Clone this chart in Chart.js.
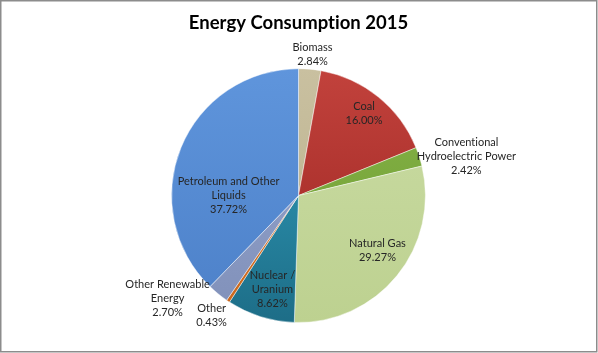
<!DOCTYPE html>
<html><head><meta charset="utf-8">
<script src="https://cdn.jsdelivr.net/npm/chart.js@4"></script>
<style>html,body{margin:0;padding:0;background:#fff}#wrap{width:598px;height:353px;position:relative}</style>
</head><body><div id="wrap"><canvas id="c" width="598" height="353"></canvas></div>
<script>
// ---- data ----
const categories = ['Biomass','Coal','Conventional Hydroelectric Power','Natural Gas','Nuclear / Uranium','Other','Other Renewable Energy','Petroleum and Other Liquids'];
const shares = [2.84, 16.00, 2.42, 29.27, 8.62, 0.43, 2.70, 37.72];
const labelLines = [['Biomass'],['Coal'],['Conventional','Hydroelectric Power'],['Natural Gas'],['Nuclear /','Uranium'],['Other'],['Other Renewable','Energy'],['Petroleum and Other','Liquids']];
const titleText = 'Energy Consumption 2015';

// ---- styling / layout ----
const colorsTop    = ['#C9C0A0','#C2423C','#86B547','#CADCA4','#33A3C2','#E07E2E','#97A7D0','#5F95DC'];
const colorsBottom = ['#B9AF8A','#9A2421','#6E9A33','#BDD190','#1D6D87','#C8661C','#8090B9','#4C80C8'];
const labelRadius     = [1.116, 0.827, 1.358, 0.758, 0.768, 1.167, 1.312, 0.551];
const labelAngleShift = [0.6, -0.4, 4.8, -4.4, -1.9, 2.2, 12.5, -22.1];
const labelFont = '11px Lato';
const labelLineH = 14;

const framePlugin = {
  id: 'frame',
  beforeDraw(chart) {
    const c = chart.ctx;
    if ('letterSpacing' in c) c.letterSpacing = '0.01px';
    c.save();
    c.fillStyle = '#fff';
    c.fillRect(0, 0, chart.width, chart.height);
    c.strokeStyle = '#8c8c8c';
    c.lineWidth = 1.5;
    c.strokeRect(0.75, 0.75, 596, 351);
    c.restore();
  }
};

const labelPlugin = {
  id: 'sliceLabels',
  afterDatasetsDraw(chart) {
    const c = chart.ctx;
    const meta = chart.getDatasetMeta(0);
    c.save();
    c.font = labelFont;
    c.fillStyle = '#262626';
    c.textAlign = 'center';
    c.textBaseline = 'middle';
    meta.data.forEach((arc, i) => {
      const p = arc.getProps(['x','y','startAngle','endAngle','outerRadius'], true);
      const mid = (p.startAngle + p.endAngle) / 2 + labelAngleShift[i] * Math.PI / 180;
      const r = p.outerRadius * labelRadius[i];
      const cx = p.x + Math.cos(mid) * r;
      const cy = p.y + Math.sin(mid) * r;
      const lines = labelLines[i].concat([shares[i].toFixed(2) + '%']);
      const y0 = cy - (lines.length - 1) * labelLineH / 2;
      lines.forEach((t, k) => c.fillText(t, cx, y0 + k * labelLineH));
    });
    c.restore();
  }
};

function grad(ctx) {
  const chart = ctx.chart, area = chart.chartArea, i = ctx.dataIndex;
  if (!area) return colorsTop[i];
  const g = chart.ctx.createLinearGradient(0, area.top, 0, area.bottom);
  g.addColorStop(0, colorsTop[i]);
  g.addColorStop(1, colorsBottom[i]);
  return g;
}

new Chart(document.getElementById('c'), {
  type: 'pie',
  data: {
    labels: categories,
    datasets: [{
      data: shares,
      backgroundColor: grad,
      borderColor: 'rgba(255,255,255,0.45)',
      borderWidth: 1
    }]
  },
  options: {
    responsive: false,
    animation: false,
    layout: { padding: { left: 171, right: 172, top: 0, bottom: 30 } },
    plugins: {
      legend: { display: false },
      tooltip: { enabled: false },
      title: {
        display: true,
        text: titleText,
        color: '#000',
        font: { family: 'Lato', size: 18.5, weight: 'bold' },
        padding: { top: 12, bottom: 34 }
      }
    }
  },
  plugins: [framePlugin, labelPlugin]
});
</script></body></html>
